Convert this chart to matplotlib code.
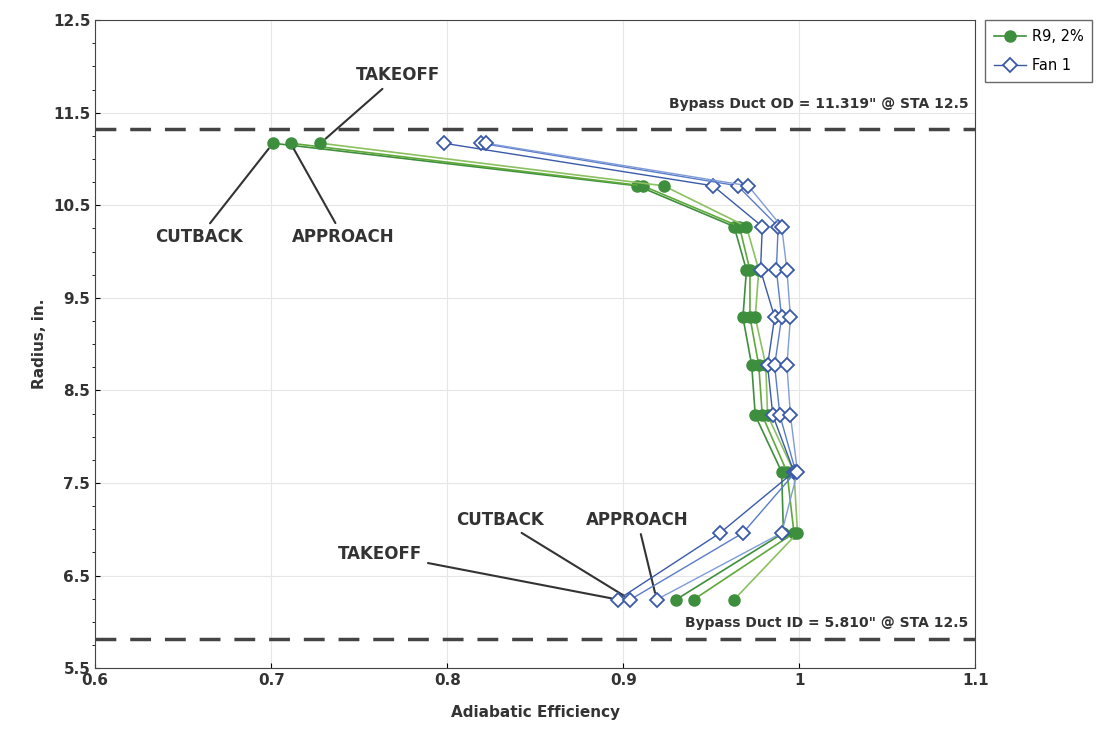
import matplotlib
matplotlib.use("Agg")
import matplotlib.pyplot as plt
from matplotlib.ticker import MultipleLocator

radius = [11.17, 10.71, 10.27, 9.80, 9.29, 8.77, 8.23, 7.62, 6.96, 6.24]
# R9, 2%: cutback, approach, takeoff
r9_cutback  = [0.701, 0.908, 0.963, 0.970, 0.968, 0.973, 0.975, 0.990, 0.991, 0.930]
r9_approach = [0.711, 0.911, 0.966, 0.972, 0.972, 0.977, 0.979, 0.993, 0.997, 0.940]
r9_takeoff  = [0.728, 0.923, 0.970, 0.977, 0.975, 0.981, 0.982, 0.997, 0.999, 0.963]
# Fan 1
fan_a = [0.798, 0.951, 0.979, 0.978, 0.986, 0.982, 0.985, 0.997, 0.955, 0.897]
fan_b = [0.819, 0.965, 0.988, 0.987, 0.990, 0.986, 0.989, 0.998, 0.968, 0.904]
fan_c = [0.822, 0.971, 0.990, 0.993, 0.995, 0.993, 0.995, 0.999, 0.990, 0.919]
od_val = 11.319
id_val = 5.810

fig = plt.figure(figsize=(11.07, 7.44), dpi=100)
ax = fig.add_axes([0.086, 0.102, 0.795, 0.871])

gcols = ['#3d8f3d', '#5fa83a', '#8cc060']
for i, (s, c) in enumerate(zip([r9_cutback, r9_approach, r9_takeoff], gcols)):
    ax.plot(s, radius, '-', color=c, lw=1.2, marker='o', ms=8, mfc='#3d8f3d', mec='#3d8f3d',
            label='R9, 2%' if i == 0 else None, zorder=3)
bcols = ['#3a5aa8', '#5a7cc8', '#7f9bd8']
for i, (s, c) in enumerate(zip([fan_a, fan_b, fan_c], bcols)):
    ax.plot(s, radius, '-', color=c, lw=1.0, marker='D', ms=7, mfc='white', mec='#3a5aa8', mew=1.3,
            label='Fan 1' if i == 0 else None, zorder=4)

ax.plot([0.6, 1.1], [od_val, od_val], '--', color='#444444', lw=2.5, dashes=(6, 4), clip_on=False)
ax.plot([0.6, 1.1], [id_val, id_val], '--', color='#444444', lw=2.5, dashes=(6, 4), clip_on=False)
ax.text(1.096, od_val + 0.2, 'Bypass Duct OD = 11.319" @ STA 12.5', ha='right', va='bottom', fontsize=10, fontweight='bold', color='#333333')
ax.text(1.096, id_val + 0.1, 'Bypass Duct ID = 5.810" @ STA 12.5', ha='right', va='bottom', fontsize=10, fontweight='bold', color='#333333')

ax.set_xlim(0.6, 1.1)
ax.set_ylim(5.5, 12.5)
ax.yaxis.set_minor_locator(MultipleLocator(0.25))
ax.set_xticks([0.6, 0.7, 0.8, 0.9, 1.0, 1.1])
ax.set_xticklabels(['0.6', '0.7', '0.8', '0.9', '1', '1.1'])
ax.set_yticks([5.5, 6.5, 7.5, 8.5, 9.5, 10.5, 11.5, 12.5])
ax.grid(True, color='#e6e6e6', lw=0.8)
ax.tick_params(labelsize=11, direction='in')
for lb in ax.get_xticklabels() + ax.get_yticklabels():
    lb.set_fontweight('bold'); lb.set_color('#333333')
ax.set_xlabel('Adiabatic Efficiency', fontsize=11, fontweight='bold', color='#333333', labelpad=12)
ax.set_ylabel('Radius, in.', fontsize=11, fontweight='bold', color='#333333')
for sp in ax.spines.values():
    sp.set_color('#444444')

kw = dict(fontsize=12, fontweight='bold', color='#333333',
          arrowprops=dict(arrowstyle='-', color='#333333', lw=1.5, shrinkA=2, shrinkB=5))
ax.annotate('TAKEOFF', xy=(r9_takeoff[0], radius[0]), xytext=(0.772, 11.85), ha='center', **kw)
ax.annotate('CUTBACK', xy=(r9_cutback[0], radius[0]), xytext=(0.659, 10.1), ha='center', **kw)
ax.annotate('APPROACH', xy=(r9_approach[0], radius[0]), xytext=(0.741, 10.1), ha='center', **kw)
ax.annotate('TAKEOFF', xy=(fan_a[9], radius[9]), xytext=(0.762, 6.68), ha='center', **kw)
ax.annotate('CUTBACK', xy=(fan_b[9], radius[9]), xytext=(0.83, 7.05), ha='center', **kw)
ax.annotate('APPROACH', xy=(fan_c[9], radius[9]), xytext=(0.908, 7.05), ha='center', **kw)

leg = ax.legend(loc='upper left', bbox_to_anchor=(1.011, 1.0), fontsize=10.5, frameon=True,
                fancybox=False, edgecolor='#444444', handlelength=2.2, labelspacing=1.0,
                borderaxespad=0, handletextpad=0.4, borderpad=0.6)
fig.savefig('out.png', dpi=100, facecolor='white')
